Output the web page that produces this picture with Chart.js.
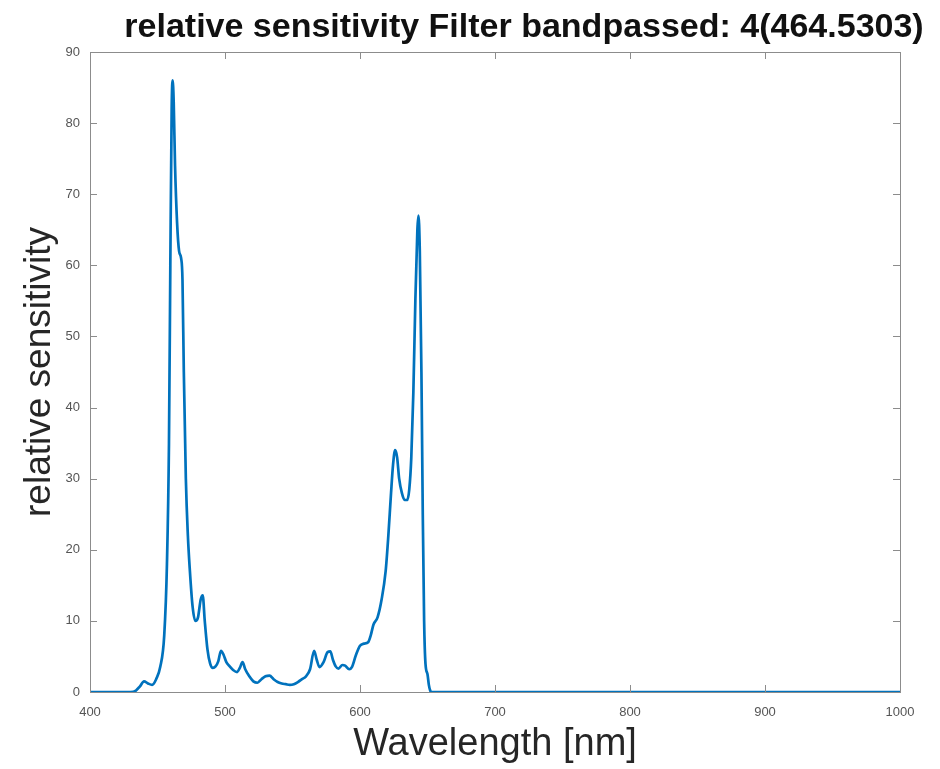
<!DOCTYPE html>
<html lang="en">
<head>
    <meta charset="UTF-8">
    <title>relative sensitivity</title>
    <script src="https://cdn.jsdelivr.net/npm/chart.js"></script>
    <style>
        html, body { margin: 0; padding: 0; background: #ffffff; }
        .grafico { width: 940px; height: 769px; }
    </style>
</head>
<body>
    <div class="grafico"><canvas id="myChart"></canvas></div>

    <script>
        const titulo = 'relative sensitivity Filter bandpassed: 4(464.5303)';
        const xLabel = 'Wavelength [nm]';
        const yLabel = 'relative sensitivity';

        // curva
        const wavelength = [
            400, 430, 434, 437, 440, 443, 446, 449, 452, 455, 457, 458.5, 459.5, 460.5, 461.2, 462, 463, 464.5,
            466, 467.5, 468.5, 469.5, 471, 472.5, 474, 476, 478, 480, 482, 483.5, 485, 487, 489, 491, 493, 495,
            497, 499, 501, 503, 506, 509, 511, 513, 515, 518, 521, 524, 527, 530, 533, 536, 539, 542, 545, 548,
            551, 554, 557, 560, 563, 566, 568, 570, 573, 576, 578, 580, 582, 584, 587, 589, 592, 594, 597, 600,
            603, 606, 608, 610, 613, 616, 619, 621, 623, 624.5, 626, 627.5, 629, 631, 633, 635, 636.5, 638,
            639.5, 641, 642.5, 643.3, 644.3, 645.5, 646.5, 647.5, 648.5, 650, 651, 652, 653, 1000
        ];
        const sensitivity = [
            0, 0, 0.2, 0.8, 1.5, 1.2, 1.0, 1.8, 3.5, 8, 18, 35, 60, 82, 86, 83, 74, 66,
            62, 61, 58, 45, 30, 22, 17, 12, 10, 10.5, 13, 13.6, 10, 6, 4, 3.4, 3.6, 4.3,
            5.8, 5.2, 4.2, 3.7, 3.1, 2.8, 3.4, 4.2, 3.2, 2.2, 1.5, 1.3, 1.8, 2.2, 2.3, 1.8, 1.4, 1.2, 1.1, 1.0,
            1.1, 1.4, 1.8, 2.2, 3.2, 5.8, 4.5, 3.5, 4.2, 5.6, 5.7, 4.5, 3.6, 3.3, 3.8, 3.7, 3.2, 3.5, 5.2, 6.5,
            6.8, 7, 8, 9.5, 10.5, 13, 17, 22, 28, 32, 34, 33, 30, 28, 27, 27, 28.5, 33,
            42, 55, 65, 67, 62, 45, 25, 10, 4, 2.5, 1, 0.2, 0, 0
        ];

        const xMin = 400, xMax = 1000, xStep = 100;
        const yMin = 0, yMax = 90, yStep = 10;

        const puntos = wavelength.map((w, i) => ({ x: w, y: sensitivity[i] }));

        // titulo y marco con marcas hacia dentro (estilo matlab)
        const marcoMatlab = {
            id: 'marcoMatlab',
            afterDraw(chart) {
                const ctx = chart.ctx;
                const { left, right, top, bottom } = chart.chartArea;
                const sx = chart.scales.x, sy = chart.scales.y;
                ctx.save();
                ctx.strokeStyle = '#8c8c8c';
                ctx.lineWidth = 1;
                ctx.strokeRect(left + 0.5, top + 0.5, right - left, bottom - top);
                ctx.beginPath();
                sx.ticks.forEach(t => {
                    const px = Math.round(sx.getPixelForValue(t.value)) + 0.5;
                    ctx.moveTo(px, bottom); ctx.lineTo(px, bottom - 7);
                    ctx.moveTo(px, top); ctx.lineTo(px, top + 7);
                });
                sy.ticks.forEach(t => {
                    const py = Math.round(sy.getPixelForValue(t.value)) + 0.5;
                    ctx.moveTo(left, py); ctx.lineTo(left + 7, py);
                    ctx.moveTo(right, py); ctx.lineTo(right - 7, py);
                });
                ctx.stroke();

                ctx.fillStyle = '#111111';
                ctx.font = 'bold 34px "Liberation Sans", Arial, sans-serif';
                ctx.textAlign = 'center';
                ctx.textBaseline = 'alphabetic';
                ctx.fillText(titulo, 524, 37);
                ctx.restore();
            }
        };

        const ctx = document.getElementById('myChart');

        const myChart = new Chart(ctx, {
            type: 'line',
            data: {
                datasets: [{
                    label: yLabel,
                    data: puntos,
                    borderColor: '#0072BD',
                    borderWidth: 2.7,
                    pointRadius: 0,
                    fill: false,
                    cubicInterpolationMode: 'monotone'
                }]
            },
            options: {
                responsive: true,
                maintainAspectRatio: false,
                animation: false,
                layout: { padding: { top: 52, right: 40, left: 0, bottom: 0 } },
                plugins: {
                    legend: { display: false },
                    tooltip: { enabled: false }
                },
                scales: {
                    x: {
                        type: 'linear',
                        min: xMin,
                        max: xMax,
                        afterFit: s => { s.height = 77; },
                        grid: { display: false, drawTicks: false },
                        border: { display: false },
                        ticks: {
                            stepSize: xStep,
                            padding: 13,
                            maxRotation: 0,
                            color: '#555555',
                            callback: v => String(v),
                            font: { size: 13, family: '"Liberation Sans", Arial, sans-serif' }
                        },
                        title: {
                            display: true,
                            text: xLabel,
                            color: '#262626',
                            padding: { top: 0, bottom: 2 },
                            font: { size: 38, family: '"Liberation Sans", Arial, sans-serif' }
                        }
                    },
                    y: {
                        min: yMin,
                        max: yMax,
                        afterFit: s => { s.width = 90; },
                        grid: { display: false, drawTicks: false },
                        border: { display: false },
                        ticks: {
                            stepSize: yStep,
                            padding: 10,
                            color: '#555555',
                            font: { size: 13, family: '"Liberation Sans", Arial, sans-serif' }
                        },
                        title: {
                            display: true,
                            text: yLabel,
                            color: '#262626',
                            padding: { top: 18, bottom: 0 },
                            font: { size: 37, family: '"Liberation Sans", Arial, sans-serif' }
                        }
                    }
                }
            },
            plugins: [marcoMatlab]
        });
    </script>
</body>
</html>
